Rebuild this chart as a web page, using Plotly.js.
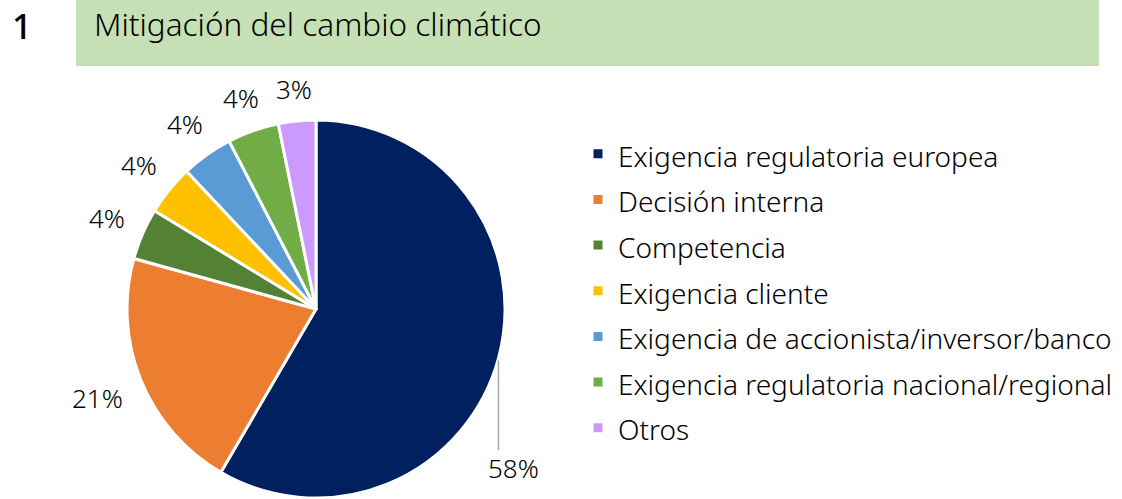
<!DOCTYPE html>
<html>
<head>
<meta charset="utf-8">
<script src="https://cdn.plot.ly/plotly-3.0.1.min.js"></script>
<style>html,body{margin:0;padding:0;background:#fff;}#chart{width:1122px;height:499px;}</style>
</head>
<body>
<div id="chart"></div>
<script>
const chartNumber = "1";
const chartTitle = "Mitigación del cambio climático";
const labels = [
  "Exigencia regulatoria europea",
  "Decisión interna",
  "Competencia",
  "Exigencia cliente",
  "Exigencia de accionista/inversor/banco",
  "Exigencia regulatoria nacional/regional",
  "Otros"
];
const values = [58.4, 20.9, 4.4, 4.3, 4.4, 4.4, 3.2];
const colors = ["#002060", "#ED7D31", "#548235", "#FFC000", "#5B9BD5", "#70AD47", "#CC99FF"];

const W = 1122, H = 499;
const FONT = "Noto Sans";
const px = x => x / W, py = y => 1 - y / H;
const cx = 316, cy = 309, r = 189;

const total = values.reduce((a, b) => a + b, 0);
const pctText = values.map(v => Math.round(v / total * 100) + "%");

// mid-angle (radians, clockwise from 12 o'clock) of each slice
const midAngles = [];
let acc = 0;
values.forEach(v => { midAngles.push((acc + v / 2) / total * 2 * Math.PI); acc += v; });

const rimX = cx + r * Math.sin(midAngles[0]), rimY = cy - r * Math.cos(midAngles[0]);

const trace = {
  type: "pie",
  labels: labels.map(l => '<span style="font-size:28px">' + l + '</span>'),
  values: values,
  textinfo: "none",
  sort: false,
  direction: "clockwise",
  rotation: 0,
  marker: {colors: colors, line: {color: "#ffffff", width: 3}},
  domain: {x: [px(cx - r), px(cx + r)], y: [py(cy + r), py(cy - r)]},
  hoverinfo: "label+percent"
};

const labelFont = {family: FONT, size: 26, color: "#000000", weight: 300};
const annotations = [
  {text: chartNumber, xref: "paper", yref: "paper", x: px(22), y: py(25), xanchor: "center", yanchor: "middle",
   showarrow: false, font: {family: FONT, size: 35, color: "#000000", weight: 500}},
  {text: pctText[0], xref: "paper", yref: "paper", x: px(rimX + 15), y: py(468), xanchor: "center", yanchor: "middle",
   showarrow: false, font: labelFont}
];
// outside labels: box placed just outside the rim along each slice's mid-angle
const gap = 19, halfH = 11, charW = 17;
for (let i = 1; i < values.length; i++) {
  const a = midAngles[i], s = Math.sin(a), c = Math.cos(a);
  const halfW = pctText[i].length * charW / 2;
  const d = r + gap + halfW * Math.abs(s) + halfH * Math.abs(c);
  annotations.push({
    text: pctText[i], xref: "paper", yref: "paper",
    x: px(cx + d * s), y: py(cy - d * c),
    xanchor: "center", yanchor: "middle", showarrow: false, font: labelFont
  });
}

const layout = {
  width: W, height: H,
  margin: {l: 0, r: 0, t: 0, b: 0},
  paper_bgcolor: "#ffffff",
  font: {family: FONT, color: "#000000"},
  title: {
    text: chartTitle,
    x: px(94), xanchor: "left", xref: "paper",
    y: py(25), yanchor: "middle", yref: "paper",
    font: {family: FONT, size: 31.5, color: "#000000", weight: 300}
  },
  showlegend: true,
  legend: {
    x: px(578), xanchor: "left",
    y: py(126), yanchor: "top",
    font: {family: FONT, size: 32.8, color: "#000000", weight: 300},
    bgcolor: "rgba(0,0,0,0)",
    itemclick: false, itemdoubleclick: false
  },
  shapes: [
    {type: "rect", xref: "paper", yref: "paper", x0: px(76), x1: px(1099), y0: py(66), y1: py(0),
     fillcolor: "#C5E0B4", line: {width: 0}, layer: "below"},
    {type: "line", xref: "paper", yref: "paper", x0: px(rimX), x1: px(rimX), y0: py(rimY + 2), y1: py(450),
     line: {color: "#A6A6A6", width: 1.5}}
  ],
  annotations: annotations
};

Plotly.newPlot("chart", [trace], layout, {displayModeBar: false, staticPlot: true});
</script>
</body>
</html>
